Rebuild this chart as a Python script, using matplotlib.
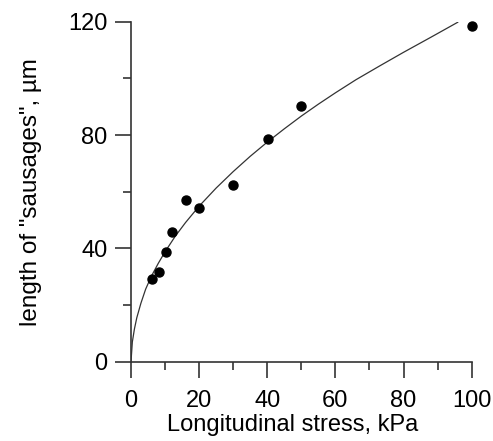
import numpy as np
import matplotlib
matplotlib.use("Agg")
from matplotlib import pyplot as plt
from matplotlib.ticker import MultipleLocator

plt.rcParams['font.family'] = ['Liberation Sans', 'DejaVu Sans']

# measured points
stress = [6.1, 8.2, 10.2, 12.1, 16.1, 20.1, 30.0, 40.1, 50.0, 100.0]
length = [29.1, 31.7, 38.7, 45.8, 57.0, 54.4, 62.4, 78.7, 90.3, 118.6]

# fitted curve
fit_x = [0, 0.4, 1.0, 1.7, 2.9, 4.3, 6.0, 8.0, 10.0, 13.0, 16.0, 20.0, 25.0,
         30.0, 35.0, 40.0, 45.0, 50.0, 55.0, 60.0, 66.0, 73.0, 80.0, 88.0, 95.9]
fit_y = [0, 7.0, 11.5, 15.5, 20.6, 25.6, 30.2, 34.7, 38.8, 44.3, 49.1, 54.9, 61.3,
         67.1, 72.5, 77.5, 82.2, 86.7, 90.9, 94.9, 99.5, 104.4, 109.2, 114.5, 119.8]

fig = plt.figure(figsize=(4.93, 4.41), dpi=100)
ax = fig.add_axes([0.2657, 0.1798, 0.6911, 0.7710])

ax.plot(fit_x, fit_y, color='#333333', lw=0.9)
ax.plot(stress, length, 'o', color='black', ms=6.5, clip_on=False)

ax.set_xlim(0, 100)
ax.set_ylim(0, 120)
ax.xaxis.set_major_locator(MultipleLocator(20))
ax.xaxis.set_minor_locator(MultipleLocator(10))
ax.yaxis.set_major_locator(MultipleLocator(40))
ax.yaxis.set_minor_locator(MultipleLocator(20))

for s in ['top', 'right']:
    ax.spines[s].set_visible(False)
for s in ['left', 'bottom']:
    ax.spines[s].set_color('#333333')
    ax.spines[s].set_linewidth(1.2)

ax.tick_params(which='major', direction='out', length=11.5, width=1.2,
               color='#333333', labelsize=17)
ax.tick_params(axis='x', which='major', pad=9)
ax.tick_params(axis='y', which='major', pad=5.5)
ax.tick_params(which='minor', direction='out', length=5.8, width=1.2, color='#333333')

ax.set_xlabel('Longitudinal stress, kPa', fontsize=17, labelpad=1.5)
ax.xaxis.label.set_x(0.474)
ax.set_ylabel('length of "sausages", \u00b5m', fontsize=17.5, labelpad=18.5)

fig.savefig('out.png', dpi=100)
